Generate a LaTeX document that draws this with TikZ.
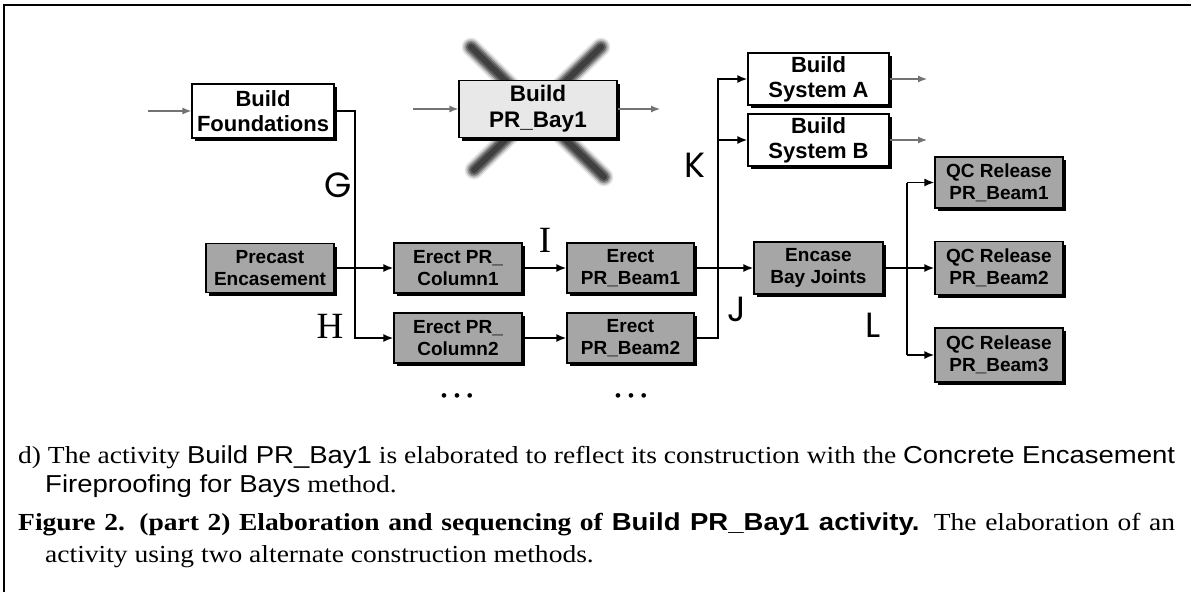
\documentclass[tikz,border=0pt]{standalone}
\usepackage{fontspec}
\setmainfont{Liberation Serif}
\setsansfont{Liberation Sans}
\newfontfamily\geofont{Poppins}
\usetikzlibrary{arrows.meta,shadows}
\newsavebox\capbox

\begin{document}
% caption width factor: first caption line is stretched to the full text width
\sbox\capbox{\fontsize{24.5}{28}\selectfont d) The activity {\sffamily Build PR\_Bay1} is elaborated to reflect its construction with the {\sffamily Concrete Encasement}}%
\pgfmathsetmacro\capsx{1157/\the\wd\capbox}%
\pgfmathsetlengthmacro\capW{1157/\capsx}%
\begin{tikzpicture}[x=1pt,y=-1pt,
  box/.style={draw=black, line width=1.2pt, inner sep=0pt, align=center,
    general shadow={fill=black, shadow xshift=3pt, shadow yshift=-3pt}},
  wbox/.style={box, fill=white, font=\fontsize{22}{25}\selectfont\sffamily\bfseries},
  pbox/.style={box, fill=black!9, font=\fontsize{22.5}{26}\selectfont\sffamily\bfseries},
  gbox/.style={box, fill=black!35, font=\fontsize{19}{22}\selectfont\sffamily\bfseries},
  flow/.style={line width=1.8pt, -{Latex[length=10pt,width=8pt]}},
  wire/.style={line width=1.8pt},
  ext/.style={line width=1.2pt, black!55, -{Latex[length=9pt,width=7pt]}},
  geolbl/.style={inner sep=0pt, font=\fontsize{35}{35}\selectfont\geofont},
  serlbl/.style={inner sep=0pt, font=\fontsize{37}{37}\selectfont\rmfamily},
  dots/.style={inner sep=0pt, font=\fontsize{17}{17}\selectfont\sffamily},
  capline/.style={anchor=base west, inner sep=0pt, font=\fontsize{24.5}{28}\selectfont}
]
\useasboundingbox (0,0) rectangle (1191,592);

% frame
\draw[line width=2pt] (4,592) -- (4,5) -- (1191,5);

% crossed-out activity
\foreach \w/\o in {19/0.10, 16/0.18, 13/0.3, 10/0.45, 6/0.6} {
  \draw[line width=\w pt, black!85, opacity=\o, line cap=round] (471,47) -- (604,177);
  \draw[line width=\w pt, black!85, opacity=\o, line cap=round] (601,47) -- (474,170);
}

% activities
\node[wbox, minimum width=142pt, minimum height=54pt] (found) at (263,111) {Build\\Foundations};
\node[pbox, minimum width=158pt, minimum height=57pt] (bay) at (538,109) {Build\\PR\_Bay1};
\node[wbox, minimum width=141pt, minimum height=52pt] (sysA) at (818.5,79) {Build\\System A};
\node[wbox, minimum width=141pt, minimum height=52pt] (sysB) at (818.5,140) {Build\\System B};

\node[gbox, minimum width=128pt, minimum height=49pt] (pre) at (270,268) {Precast\\Encasement};
\node[gbox, minimum width=128pt, minimum height=50pt] (col1) at (458,268) {Erect PR\_\\Column1};
\node[gbox, minimum width=128pt, minimum height=50pt] (col2) at (458,338) {Erect PR\_\\Column2};
\node[gbox, minimum width=127pt, minimum height=50pt] (beam1) at (630.5,268) {Erect\\PR\_Beam1};
\node[gbox, minimum width=127pt, minimum height=50pt] (beam2) at (630.5,338) {Erect\\PR\_Beam2};
\node[gbox, minimum width=129pt, minimum height=52pt] (encase) at (818.5,268) {Encase\\Bay Joints};
\node[gbox, minimum width=128pt, minimum height=51pt] (qc1) at (999,182.5) {QC Release\\PR\_Beam1};
\node[gbox, minimum width=128pt, minimum height=53pt] (qc2) at (999,268) {QC Release\\PR\_Beam2};
\node[gbox, minimum width=128pt, minimum height=54pt] (qc3) at (999,355) {QC Release\\PR\_Beam3};

% external links
\coordinate (inF) at (148,111);
\coordinate (inB) at (413,109);
\coordinate (outB) at (660,109);
\coordinate (outA) at (927,79);
\coordinate (outS) at (927,140);
\draw[ext] (inF) -- (found.west);
\draw[ext] (inB) -- (bay.west);
\draw[ext] (bay.east) -- (outB);
\draw[ext] (sysA.east) -- (outA);
\draw[ext] (sysB.east) -- (outS);

% precedence links
\coordinate (g1) at (355,111);
\coordinate (g2) at (355,338);
\coordinate (kb) at (718,338);
\coordinate (kt) at (718,79);
\coordinate (lt) at (907,182.5);
\coordinate (lb) at (907,355);
\draw[flow] (pre.east) -- (col1.west);
\draw[flow] (found.east) -- (g1) -- (g2) -- (col2.west);
\draw[flow] (col1.east) -- (beam1.west);
\draw[flow] (col2.east) -- (beam2.west);
\draw[flow] (beam1.east) -- (encase.west);
\draw[flow] (beam2.east) -- (kb) -- (kt) -- (sysA.west);
\draw[flow] (kt |- sysB.west) -- (sysB.west);
\draw[flow] (encase.east) -- (qc2.west);
\draw[wire] (lt) -- (lb);
\draw[flow] (lt) -- (qc1.west);
\draw[flow] (lb) -- (qc3.west);

% link labels
\node[geolbl] (G) at (338,185) {G};
\node[serlbl] (H) at (330,326) {H};
\node[serlbl] (I) at (545,240) {I};
\node[geolbl] (J) at (737,309) {J};
\node[geolbl] (K) at (695,165) {K};
\node[geolbl] (L) at (873,325) {L};

\node[dots] (d1) at (457,398) {\textbullet\hspace{7pt}\textbullet\hspace{7pt}\textbullet};
\node[dots] (d2) at (631,398) {\textbullet\hspace{7pt}\textbullet\hspace{7pt}\textbullet};

% caption
\node[capline] (c1) at (18,463) {\scalebox{\capsx}[1]{\usebox\capbox}};
\node[capline] (c2) at (45,492) {\scalebox{\capsx}[1]{{\sffamily Fireproofing for Bays} method.}};
\node[capline] (c3) at (18,530) {\scalebox{\capsx}[1]{\makebox[\capW][s]{\textbf{Figure 2. (part 2) Elaboration and sequencing of} {\sffamily\bfseries Build PR\_Bay1 activity.} The elaboration of an}}};
\node[capline] (c4) at (45,562) {\scalebox{\capsx}[1]{activity using two alternate construction methods.}};
\end{tikzpicture}
\end{document}
